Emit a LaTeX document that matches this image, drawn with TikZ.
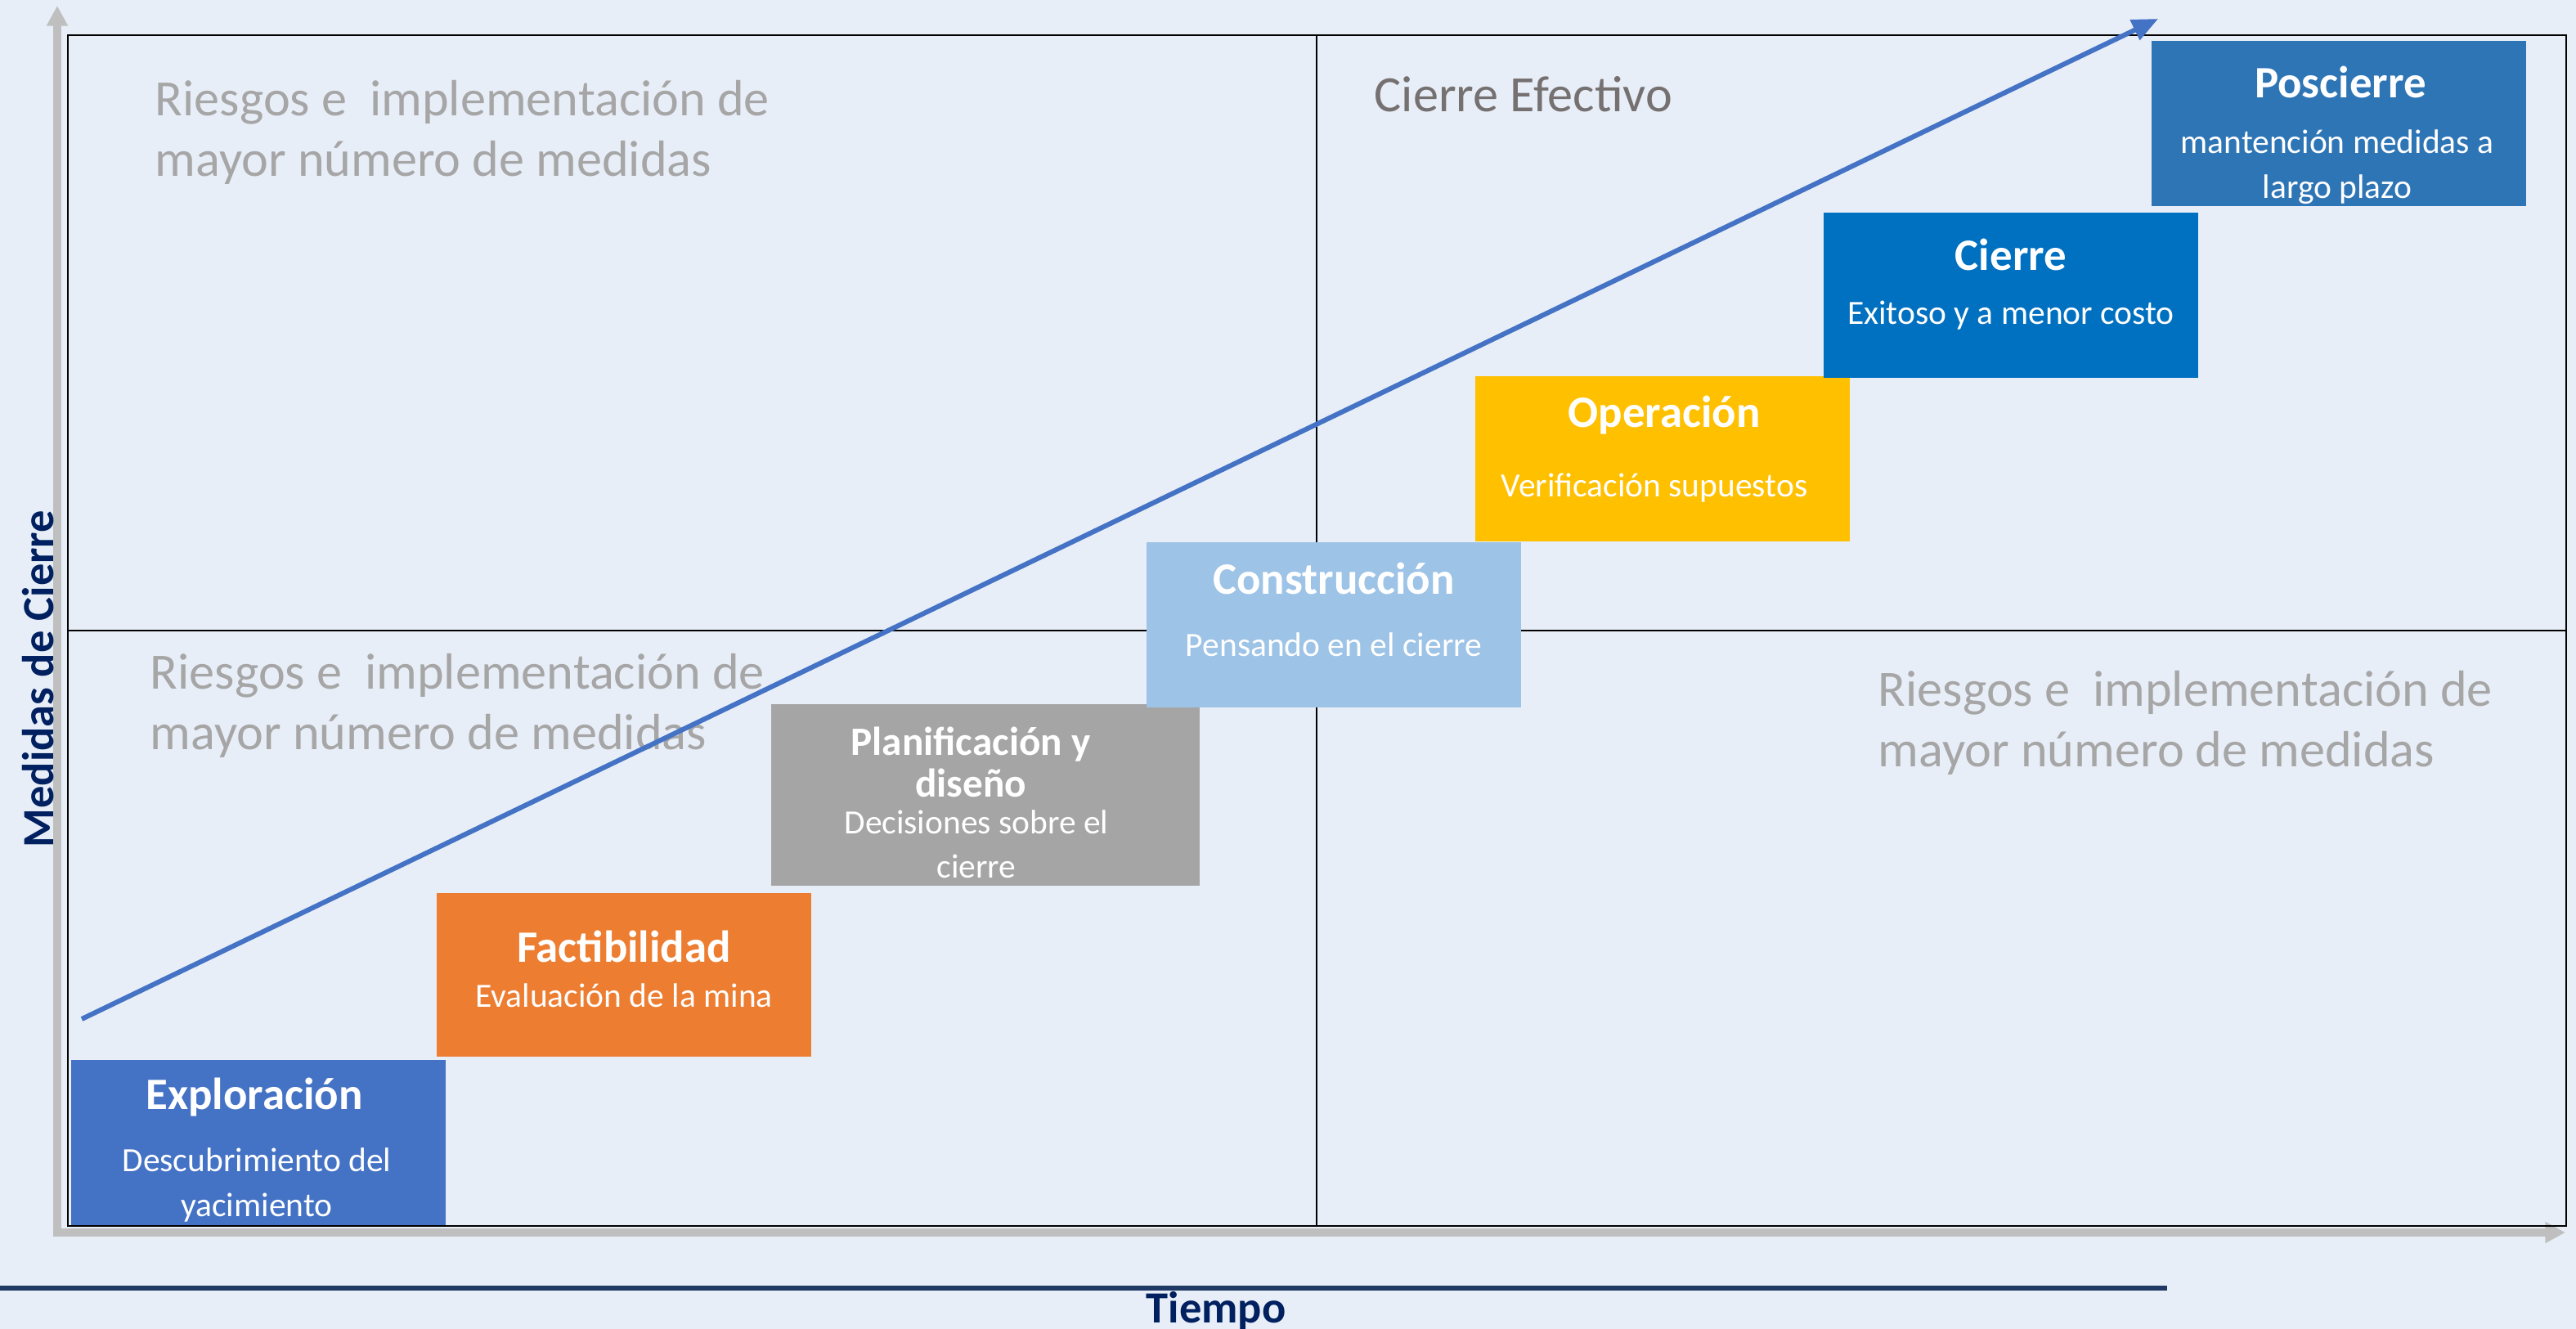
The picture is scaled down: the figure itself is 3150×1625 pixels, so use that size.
\documentclass[tikz,border=0pt]{standalone}
\usepackage{fontspec}
\setmainfont{Carlito}
\usetikzlibrary{positioning,arrows.meta}

\definecolor{fondo}{HTML}{E8EEF8}
\definecolor{ejegris}{HTML}{BFBFBF}
\definecolor{marino}{HTML}{002060}
\definecolor{lineamarino}{HTML}{1F3864}
\definecolor{textogris}{HTML}{A6A6A6}
\definecolor{textoosc}{HTML}{767171}
\definecolor{flecha}{HTML}{4472C4}
\definecolor{cExp}{HTML}{4472C4}
\definecolor{cFac}{HTML}{ED7D31}
\definecolor{cPla}{HTML}{A5A5A5}
\definecolor{cCon}{HTML}{9DC3E6}
\definecolor{cOpe}{HTML}{FFC000}
\definecolor{cCie}{HTML}{0070C0}
\definecolor{cPos}{HTML}{2E75B6}

\begin{document}
\begin{tikzpicture}[x=0.01cm, y=-0.01cm,
  etapa/.style={rectangle, inner sep=0pt, minimum width=4.58cm, minimum height=2.02cm},
  titulo/.style={text=white, align=center, font=\fontsize{15.6}{14.5}\selectfont\bfseries},
  detalle/.style={text=white, align=center, font=\fontsize{11.8}{15.5}\selectfont},
  cuadrante/.style={anchor=west, align=left, inner sep=0pt, text=textogris, font=\fontsize{17.7}{21}\selectfont},
  eje/.style={ejegris, line width=2.6pt, {Triangle[length=7pt,width=7pt]}-{Triangle[length=7pt,width=7pt]}}]

  % Background
  \useasboundingbox (0,0) rectangle (3150,1625);
  \fill[fondo] (0,0) rectangle (3150,1625);

  % Axes
  \coordinate (ejeY) at (70,7);
  \coordinate (origen) at (70,1507);
  \coordinate (ejeX) at (3137,1507);
  \draw[eje] (ejeY) -- (origen) -- (ejeX);
  \coordinate (lineaA) at (0,1575);
  \coordinate (lineaB) at (2650,1575);
  \draw[lineamarino, line width=1.7pt] (lineaA) -- (lineaB);
  \node[rotate=90, anchor=base, text=marino, font=\fontsize{15.5}{18}\selectfont\bfseries] (medidas) at (65,830) {Medidas de Cierre};
  \node[anchor=base, text=marino, font=\fontsize{15.5}{18}\selectfont\bfseries] (tiempo) at (1487,1617) {Tiempo};

  % Quadrants
  \draw[line width=0.6pt] (83,43) rectangle (3138,1499);
  \draw[line width=0.45pt] (1610,43) -- (1610,1499);
  \draw[line width=0.45pt] (83,771) -- (3138,771);
  \node[cuadrante] (q1) at (189,162) {Riesgos e \ implementación de\\mayor número de medidas};
  \node[cuadrante] (q2) at (183,863) {Riesgos e \ implementación de\\mayor número de medidas};
  \node[cuadrante] (q3) at (2296,884) {Riesgos e \ implementación de\\mayor número de medidas};
  \node[cuadrante, text=textoosc] (q4) at (1680,115) {Cierre Efectivo};

  % Stages
  \node[etapa, fill=cExp] (exp) at (316,1397) {};
  \node[titulo] (expT) at (311,1342) {Exploración};
  \node[detalle] (expS) at (314,1449) {Descubrimiento del\\yacimiento};

  \node[etapa, fill=cFac, minimum height=1.99cm] (fac) at (763,1192) {};
  \node[titulo] (facT) at (763,1157) {Factibilidad};
  \node[detalle] (facS) at (763,1217) {Evaluación de la mina};

  \node[etapa, fill=cPla, minimum width=5.23cm, minimum height=2.21cm] (pla) at (1205,972) {};
  \node[titulo, font=\fontsize{14}{14.5}\selectfont\bfseries] (plaT) at (1187,932) {Planificación y\\diseño};
  \node[detalle] (plaS) at (1194,1032) {Decisiones sobre el\\cierre};

  \node[etapa, fill=cCon] (con) at (1631,764) {};
  \node[titulo] (conT) at (1631,707) {Construcción};
  \node[detalle] (conS) at (1631,788) {Pensando en el cierre};

  \node[etapa, fill=cOpe] (ope) at (2033,561) {};
  \node[titulo] (opeT) at (2035,508) {Operación};
  \node[detalle] (opeS) at (2023,597) {Verificación supuestos};

  \node[etapa, fill=cCie] (cie) at (2459,361) {};
  \node[titulo] (cieT) at (2459,311) {Cierre};
  \node[detalle] (cieS) at (2459,386) {Exitoso y a menor costo};

  \node[etapa, fill=cPos] (pos) at (2860,151) {};
  \node[titulo] (posT) at (2862,100) {Poscierre};
  \node[detalle] (posS) at (2858,204) {mantención medidas a\\largo plazo};

  % Trend
  \coordinate (inicio) at (100,1246);
  \coordinate (fin) at (2639,23);
  \draw[flecha, line width=1.7pt, -{Triangle[length=9pt,width=7.5pt]}] (inicio) -- (fin);

\end{tikzpicture}
\end{document}
